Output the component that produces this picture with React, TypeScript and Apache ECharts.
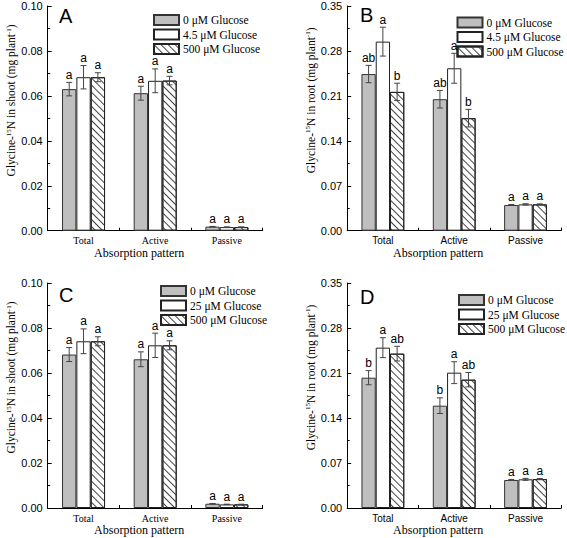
import React, { useEffect, useRef } from "react";
import * as echarts from "echarts";

const categories = ["Total", "Active", "Passive"];
const legendA = ["0 μM Glucose", "4.5 μM Glucose", "500 μM Glucose"];
const legendC = ["0 μM Glucose", "25 μM Glucose", "500 μM Glucose"];
const panelLetters = ["A", "B", "C", "D"];

// Panel A: shoot, 0 / 4.5 / 500 µM
const shootA0 = [0.063, 0.0612, 0.0018];
const shootA45 = [0.0683, 0.0667, 0.0016];
const shootA500 = [0.0683, 0.0668, 0.0016];
const errA0 = [0.003, 0.0031, 0.0001];
const errA45 = [0.0052, 0.0053, 0.0001];
const errA500 = [0.002, 0.0019, 0.0001];
const letA0 = ["a", "a", "a"];
const letA45 = ["a", "a", "a"];
const letA500 = ["a", "a", "a"];

// Panel B: root, 0 / 4.5 / 500 µM
const rootB0 = [0.244, 0.2048, 0.04];
const rootB45 = [0.2945, 0.253, 0.041];
const rootB500 = [0.2162, 0.1753, 0.041];
const errB0 = [0.0135, 0.0137, 0.0008];
const errB45 = [0.0225, 0.0233, 0.001];
const errB500 = [0.0135, 0.0137, 0.0008];
const letB0 = ["ab", "ab", "a"];
const letB45 = ["a", "a", "a"];
const letB500 = ["b", "b", "a"];

// Panel C: shoot, 0 / 25 / 500 µM
const shootC0 = [0.0682, 0.0661, 0.0019];
const shootC25 = [0.0741, 0.0723, 0.0016];
const shootC500 = [0.0741, 0.0723, 0.0016];
const errC0 = [0.0031, 0.0033, 0.0001];
const errC25 = [0.0055, 0.0054, 0.0001];
const errC500 = [0.002, 0.002, 0.0001];
const letC0 = ["a", "a", "a"];
const letC25 = ["a", "a", "a"];
const letC500 = ["a", "a", "a"];

// Panel D: root, 0 / 25 / 500 µM
const rootD0 = [0.2027, 0.1592, 0.0436];
const rootD25 = [0.2494, 0.2105, 0.0446];
const rootD500 = [0.2401, 0.1996, 0.045];
const errD0 = [0.011, 0.0122, 0.0008];
const errD25 = [0.0155, 0.017, 0.0015];
const errD500 = [0.0114, 0.0112, 0.0008];
const letD0 = ["b", "b", "a"];
const letD25 = ["a", "a", "a"];
const letD500 = ["ab", "ab", "a"];

const yTicksShoot = { max: 0.1, interval: 0.02 };
const yTicksRoot = { max: 0.35, interval: 0.07 };

const SERIF = '"Liberation Serif", "Times New Roman", serif';
const SANS = '"Liberation Sans", Arial, sans-serif';

const panels = [
  { vals: [shootA0, shootA45, shootA500], errs: [errA0, errA45, errA500], lets: [letA0, letA45, letA500], names: legendA, organ: "shoot", ticks: yTicksShoot, catFont: SERIF },
  { vals: [rootB0, rootB45, rootB500], errs: [errB0, errB45, errB500], lets: [letB0, letB45, letB500], names: legendA, organ: "root", ticks: yTicksRoot, catFont: SANS },
  { vals: [shootC0, shootC25, shootC500], errs: [errC0, errC25, errC500], lets: [letC0, letC25, letC500], names: legendC, organ: "shoot", ticks: yTicksShoot, catFont: SERIF },
  { vals: [rootD0, rootD25, rootD500], errs: [errD0, errD25, errD500], lets: [letD0, letD25, letD500], names: legendC, organ: "root", ticks: yTicksRoot, catFont: SANS },
];

const gridPos = [
  { left: 47.7, top: 6, width: 215, height: 224.7 },
  { left: 347.2, top: 6, width: 214, height: 224.7 },
  { left: 47.7, top: 283, width: 215, height: 225 },
  { left: 347.2, top: 283, width: 214, height: 225 },
];
const legendPos = [
  { left: 153, top: 14 },
  { left: 456.5, top: 16.5 },
  { left: 160, top: 285 },
  { left: 458, top: 294 },
];
const letterPos = [
  { left: 59, top: 6 },
  { left: 360, top: 5 },
  { left: 59, top: 285 },
  { left: 360, top: 287 },
];

const hatchDecal = {
  symbol: "rect",
  symbolSize: 1,
  dashArrayX: [1, 0],
  dashArrayY: [1, 4],
  rotation: Math.PI / 4,
  color: "#444",
  backgroundColor: "#fff",
};

const barStyles = [
  { color: "#bfbfbf", borderColor: "#333", borderWidth: 1 },
  { color: "#ffffff", borderColor: "#222", borderWidth: 1 },
  { color: "#ffffff", borderColor: "#222", borderWidth: 1, decal: hatchDecal },
];

function buildOption() {
  const series: any[] = [];
  panels.forEach((p, g) => {
    for (let k = 0; k < 3; k++) {
      series.push({
        type: "bar",
        name: p.names[k],
        xAxisIndex: g,
        yAxisIndex: g,
        data: p.vals[k],
        barWidth: "20%",
        barGap: "0%",
        itemStyle: barStyles[k],
        z: 2,
      });
    }
    for (let k = 0; k < 3; k++) {
      const errs = p.errs[k];
      const lets = p.lets[k];
      const vals = p.vals[k];
      series.push({
        type: "custom",
        name: "err" + g + "_" + k,
        xAxisIndex: g,
        yAxisIndex: g,
        coordinateSystem: "cartesian2d",
        silent: true,
        z: 10,
        data: vals.map((v, i) => [i, v]),
        renderItem: (params: any, api: any) => {
          const i = api.value(0);
          const v = api.value(1);
          const e = errs[params.dataIndex];
          const band = api.size([1, 0])[0];
          const bw = band * 0.2;
          const x = api.coord([i, v])[0] + (k - 1) * bw;
          const yTop = api.coord([i, v + e])[1];
          const yBot = api.coord([i, v - e])[1];
          const cap = 3;
          const ls = { stroke: "#444", lineWidth: 1 };
          return {
            type: "group",
            children: [
              { type: "line", shape: { x1: x, y1: yTop, x2: x, y2: yBot }, style: ls },
              { type: "line", shape: { x1: x - cap, y1: yTop, x2: x + cap, y2: yTop }, style: ls },
              { type: "line", shape: { x1: x - cap, y1: yBot, x2: x + cap, y2: yBot }, style: ls },
              {
                type: "text",
                x: x,
                y: yTop - 1.5,
                style: {
                  text: lets[params.dataIndex],
                  fill: "#000",
                  font: "12px " + SANS,
                  align: "center",
                  verticalAlign: "bottom",
                },
              },
            ],
          };
        },
      });
    }
  });

  return {
    animation: false,
    backgroundColor: "#fff",
    title: panelLetters.map((t, g) => ({
      text: t,
      left: letterPos[g].left,
      top: letterPos[g].top,
      padding: 0,
      textStyle: { fontSize: 20, fontWeight: "normal", fontFamily: SANS, color: "#000" },
    })),
    legend: panels.map((p, g) => ({
      data: p.names,
      orient: "vertical",
      left: legendPos[g].left,
      top: legendPos[g].top,
      padding: 0,
      itemWidth: 25,
      itemHeight: 10,
      itemGap: 2.5,
      icon: "rect",
      selectedMode: false,
      textStyle: { fontFamily: SERIF, fontSize: 11.5, color: "#000", lineHeight: 12, padding: [0, 0, 0, -1] },
    })),
    grid: gridPos.map((gp) => ({ ...gp })),
    xAxis: panels.map((p, g) => ({
      type: "category",
      gridIndex: g,
      data: categories,
      axisLine: { show: true, lineStyle: { color: "#000", width: 1 } },
      axisTick: { show: true, inside: true, length: 3, lineStyle: { color: "#000" } },
      axisLabel: { fontFamily: p.catFont, fontSize: 10, color: "#000", margin: 5 },
      splitLine: { show: false },
      name: "Absorption pattern",
      nameLocation: "middle",
      nameGap: 14,
      nameTextStyle: { fontFamily: SERIF, fontSize: 12, color: "#000", padding: [0, 32, 0, 0] },
    })),
    yAxis: panels.map((p, g) => ({
      type: "value",
      gridIndex: g,
      min: 0,
      max: p.ticks.max,
      interval: p.ticks.interval,
      axisLine: { show: true, lineStyle: { color: "#000", width: 1 } },
      axisTick: { show: true, inside: true, length: 4, lineStyle: { color: "#000" } },
      minorTick: { show: true, splitNumber: 2, length: 2.5, lineStyle: { color: "#000" } },
      splitLine: { show: false },
      axisLabel: {
        fontFamily: SANS,
        fontSize: 11,
        color: "#000",
        margin: 5,
        formatter: (v: number) => v.toFixed(2),
      },
      name: "Glycine-{sup|15}N in " + p.organ + " (mg plant{sup|-1})",
      nameLocation: "middle",
      nameGap: 29,
      nameTextStyle: {
        fontFamily: SERIF,
        fontSize: 11.5,
        color: "#000",
        padding: [0, 0, 0, 36],
        rich: {
          sup: { fontFamily: SERIF, fontSize: 7, color: "#000", verticalAlign: "top" },
        },
      },
    })),
    series,
  };
}

export default function App() {
  const ref = useRef<HTMLDivElement>(null);
  useEffect(() => {
    if (!ref.current) return;
    const chart = echarts.init(ref.current, null, { renderer: "svg" });
    chart.setOption(buildOption() as any);
    return () => chart.dispose();
  }, []);
  return (
    <div
      ref={ref}
      style={{ position: "fixed", left: 0, top: 0, width: 567, height: 538, background: "#fff" }}
    />
  );
}
